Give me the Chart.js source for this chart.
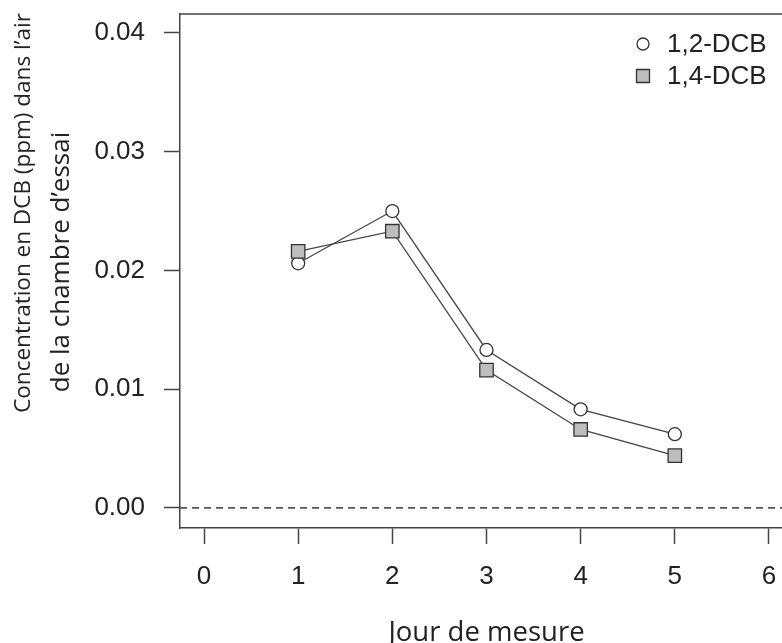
<!DOCTYPE html>
<html><head><meta charset="utf-8">
<script src="https://cdn.jsdelivr.net/npm/chart.js"></script>
<style>
html,body{margin:0;padding:0;overflow:hidden;background:#fff;width:782px;height:643px}
#wrap{position:relative;width:830px;height:643px}
</style></head>
<body><div id="wrap"><canvas id="c" width="830" height="643"></canvas></div>
<script>
const days = [1, 2, 3, 4, 5];
const dcb12 = [0.0206, 0.0250, 0.0133, 0.0083, 0.0062];
const dcb14 = [0.0216, 0.0233, 0.0116, 0.0066, 0.0044];
const seriesNames = ['1,2-DCB', '1,4-DCB'];
const xTicks = [0, 1, 2, 3, 4, 5, 6];
const yTicks = [0, 0.01, 0.02, 0.03, 0.04];
const referenceLevel = 0;
const xTitle = 'Jour de mesure';
const yTitle = ['Concentration en DCB (ppm) dans l’air', 'de la chambre d’essai'];

const AX = '#444';
const TXT = '#222';
const tickFont = {family: "'Liberation Sans', Arial, sans-serif", size: 26};
const titleFamily = "'Open Sans', 'Noto Sans', sans-serif";

const refLine = {
  id: 'refLine',
  beforeDatasetsDraw(chart) {
    const {ctx, chartArea, scales} = chart;
    const y = scales.y.getPixelForValue(referenceLevel);
    ctx.save();
    ctx.strokeStyle = '#555';
    ctx.lineWidth = 1.8;
    ctx.setLineDash([7, 5]);
    ctx.beginPath();
    ctx.moveTo(chartArea.left, y);
    ctx.lineTo(chartArea.right, y);
    ctx.stroke();
    ctx.restore();
  }
};

const frame = {
  id: 'frame',
  afterDraw(chart) {
    const {ctx, chartArea} = chart;
    ctx.save();
    ctx.strokeStyle = AX;
    ctx.lineWidth = 1.5;
    ctx.beginPath();
    ctx.moveTo(chartArea.left, chartArea.top);
    ctx.lineTo(chartArea.right, chartArea.top);
    ctx.lineTo(chartArea.right, chartArea.bottom);
    ctx.stroke();
    ctx.restore();
  }
};

const yTitlePlugin = {
  id: 'yTitlePlugin',
  afterDraw(chart) {
    const {ctx} = chart;
    ctx.save();
    ctx.fillStyle = TXT;
    ctx.textAlign = 'center';
    ctx.textBaseline = 'middle';
    const layout = [{x: 24, y: 213, len: 400}, {x: 62, y: 262, len: 280}];
    yTitle.forEach((t, i) => {
      ctx.font = "100px " + titleFamily;
      const w = ctx.measureText(t).width;
      const size = Math.min(26, 100 * layout[i].len / w);
      ctx.font = size.toFixed(2) + "px " + titleFamily;
      ctx.save();
      ctx.translate(layout[i].x, layout[i].y);
      ctx.rotate(-Math.PI / 2);
      ctx.fillText(t, 0, 0);
      ctx.restore();
    });
    ctx.restore();
  }
};

const legendPlugin = {
  id: 'legendPlugin',
  afterDraw(chart) {
    const {ctx, chartArea} = chart;
    const sx = chartArea.right - 150;
    const rows = [chartArea.top + 30, chartArea.top + 62];
    ctx.save();
    ctx.font = tickFont.size + "px " + tickFont.family;
    ctx.textBaseline = 'middle';
    ctx.textAlign = 'left';
    chart.data.datasets.forEach((ds, i) => {
      const y = rows[i];
      ctx.lineWidth = 1.3;
      ctx.strokeStyle = '#333';
      ctx.fillStyle = ds.pointBackgroundColor;
      ctx.beginPath();
      if (ds.pointStyle === 'circle') {
        ctx.arc(sx, y, 6, 0, Math.PI * 2);
      } else {
        ctx.rect(sx - 6.5, y - 6.5, 13, 13);
      }
      ctx.fill();
      ctx.stroke();
      ctx.fillStyle = TXT;
      ctx.fillText(ds.label, sx + 24, y + 1);
    });
    ctx.restore();
  }
};

new Chart(document.getElementById('c'), {
  type: 'line',
  data: {
    datasets: [
      {
        label: seriesNames[0],
        data: days.map((d, i) => ({x: d, y: dcb12[i]})),
        borderColor: AX, borderWidth: 1.3, tension: 0,
        pointStyle: 'circle', pointRadius: 6.5,
        pointBackgroundColor: '#ffffff', pointBorderColor: '#333', pointBorderWidth: 1.3,
        order: 2
      },
      {
        label: seriesNames[1],
        data: days.map((d, i) => ({x: d, y: dcb14[i]})),
        borderColor: AX, borderWidth: 1.3, tension: 0,
        pointStyle: 'rect', pointRadius: 9.5,
        pointBackgroundColor: '#bdbdbd', pointBorderColor: '#333', pointBorderWidth: 1.3,
        order: 1
      }
    ]
  },
  options: {
    responsive: false,
    animation: false,
    devicePixelRatio: 1,
    layout: {padding: {top: 14, right: 37, left: 0, bottom: 0}},
    plugins: {legend: {display: false}, tooltip: {enabled: false}},
    scales: {
      x: {
        type: 'linear', min: -0.255, max: 6.255,
        afterBuildTicks: s => { s.ticks = xTicks.map(v => ({value: v})); },
        afterFit: s => { s.height = 115; s.paddingLeft = 0; s.paddingRight = 0; },
        grid: {display: true, drawOnChartArea: false, drawTicks: true, tickLength: 16, tickColor: AX, tickWidth: 1.5},
        border: {display: true, color: AX, width: 1.5},
        ticks: {font: tickFont, color: TXT, padding: 17, maxRotation: 0, autoSkip: false, callback: v => String(v)},
        title: {display: true, text: xTitle, color: TXT, font: {family: titleFamily, size: 27.5}, padding: {top: 0, bottom: -7}}
      },
      y: {
        type: 'linear', min: -0.0017, max: 0.0416,
        afterBuildTicks: s => { s.ticks = yTicks.map(v => ({value: v})); },
        afterFit: s => { s.width = 180; s.paddingTop = 0; s.paddingBottom = 0; },
        grid: {display: true, drawOnChartArea: false, drawTicks: true, tickLength: 16, tickColor: AX, tickWidth: 1.5},
        border: {display: true, color: AX, width: 1.5},
        ticks: {font: tickFont, color: TXT, padding: 19, callback: v => v.toFixed(2)}
      }
    }
  },
  plugins: [refLine, frame, yTitlePlugin, legendPlugin]
});
</script>
</body></html>
